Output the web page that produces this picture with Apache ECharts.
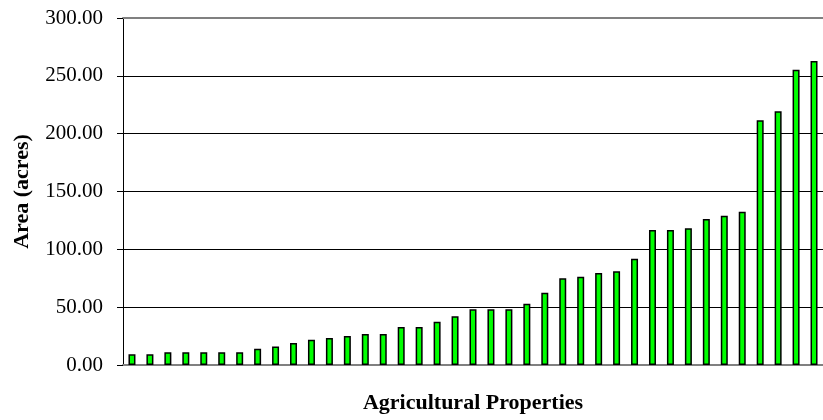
<!DOCTYPE html>
<html>
<head>
<meta charset="utf-8">
<script src="https://cdn.jsdelivr.net/npm/echarts@6/dist/echarts.min.js"></script>
<style>
  html, body { margin: 0; padding: 0; background: #fff; }
  #chart { width: 823px; height: 420px; }
</style>
</head>
<body>
<div id="chart"></div>
<script>
// one bar per property, sorted by area
const properties = Array.from({ length: 39 }, (_, i) => 'P' + (i + 1))
const areas = [
  9.2, 9.2, 11.0, 11.0, 11.0, 11.0, 11.0, 14.1, 15.9, 19.0,
  21.9, 23.3, 25.1, 26.8, 26.8, 32.9, 32.9, 37.5, 42.1, 48.1,
  48.1, 48.1, 53.0, 62.5, 74.9, 76.4, 79.5, 81.0, 91.9, 116.7,
  116.7, 118.2, 126.2, 129.1, 132.6, 211.5, 219.3, 255.3, 262.8,
]
const yTicks = [0, 50, 100, 150, 200, 250, 300]

const serif = '"Liberation Serif", "Times New Roman", serif'
const titleStyle = { fontFamily: serif, fontSize: 22, fontWeight: 'bold', color: '#000' }

const chart = echarts.init(document.getElementById('chart'))
chart.setOption({
  animation: false,
  grid: { left: 123, right: -5, top: 18, bottom: 55 },
  xAxis: [
    {
      type: 'category',
      data: properties,
      name: 'Agricultural Properties',
      nameLocation: 'middle',
      nameGap: 27,
      nameTextStyle: titleStyle,
      axisLine: { lineStyle: { color: '#808080', width: 2 } },
      axisTick: { show: false },
      axisLabel: { show: false },
    },
    {
      // plot area top border
      type: 'category',
      position: 'top',
      data: properties,
      axisLine: { lineStyle: { color: '#808080', width: 2 } },
      axisTick: { show: false },
      axisLabel: { show: false },
    },
  ],
  yAxis: {
    type: 'value',
    min: yTicks[0],
    max: yTicks[yTicks.length - 1],
    interval: 50,
    name: 'Area (acres)',
    nameLocation: 'middle',
    nameGap: 90,
    nameTextStyle: titleStyle,
    axisLine: { show: true, lineStyle: { color: '#000', width: 1 } },
    axisTick: { show: true, length: 6, lineStyle: { color: '#000' } },
    axisLabel: {
      margin: 20,
      fontFamily: serif,
      fontSize: 21,
      color: '#000',
      formatter: v => v.toFixed(2),
    },
    splitLine: { show: true, showMinLine: false, showMaxLine: false, lineStyle: { color: '#000', width: 1 } },
  },
  series: [{
    type: 'bar',
    data: areas,
    barWidth: 7,
    itemStyle: { color: '#00ff00', borderColor: '#000', borderWidth: 1.5 },
  }],
})
</script>
</body>
</html>
